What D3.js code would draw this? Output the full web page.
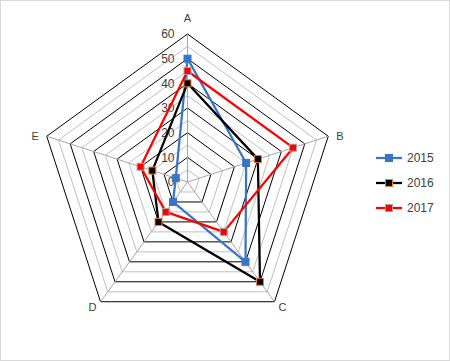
<!DOCTYPE html>
<html>
<head>
<meta charset="utf-8">
<script src="https://cdn.jsdelivr.net/npm/d3@7"></script>
<style>
  body { margin: 0; background: #fff; }
  svg { display: block; font-family: "Liberation Sans", Arial, sans-serif; }
</style>
</head>
<body>
<svg></svg>
<script>
const categories = ["A", "B", "C", "D", "E"];
const seriesNames = ["2015", "2016", "2017"];
const values2015 = [50, 25, 40, 10, 5];
const values2016 = [40, 30, 50, 20, 15];
const values2017 = [45, 45, 25, 15, 20];
const tickValues = [0, 10, 20, 30, 40, 50, 60];

const width = 450, height = 361;
const cx = 187.5, cy = 182, R = 148;

const series = [
    {name: seriesNames[0], values: values2015, line: "#3a75c4", fill: "#3a75c4", border: "#3a75c4"},
    {name: seriesNames[1], values: values2016, line: "#000000", fill: "#000000", border: "#ed7d31"},
    {name: seriesNames[2], values: values2017, line: "#ff0000", fill: "#ff0000", border: "#a5a5a5"}
];

const svg = d3.select("svg")
    .attr("width", width)
    .attr("height", height);

svg.append("rect")
    .attr("x", 0.5).attr("y", 0.5)
    .attr("width", width - 1).attr("height", height - 1)
    .attr("fill", "#fff")
    .attr("stroke", "#d9d9d9");

const r = d3.scaleLinear().domain([0, 60]).range([0, R]);
const angle = d3.scalePoint().domain(d3.range(categories.length + 1)).range([0, 2 * Math.PI]);

const px = (i, v) => cx + r(v) * Math.sin(angle(i % categories.length));
const py = (i, v) => cy - r(v) * Math.cos(angle(i % categories.length));

const g = svg.append("g");

// rings every 5, black on the tens
const ringLevels = d3.range(5, 61, 5);
g.selectAll(".ring")
    .data(ringLevels)
    .enter()
    .append("polygon")
    .attr("class", "ring")
    .attr("points", v => categories.map((c, i) => px(i, v) + "," + py(i, v)).join(" "))
    .attr("fill", "none")
    .attr("stroke", v => v % 10 === 0 ? "#000" : "#bfbfbf")
    .attr("stroke-width", 1);

// spokes
g.selectAll(".spoke")
    .data(categories)
    .enter()
    .append("line")
    .attr("x1", cx).attr("y1", cy)
    .attr("x2", (d, i) => px(i, 60))
    .attr("y2", (d, i) => py(i, 60))
    .attr("stroke", "#a6a6a6")
    .attr("stroke-width", 1);

// tick labels
g.selectAll(".tick")
    .data(tickValues)
    .enter()
    .append("text")
    .attr("x", cx - 13)
    .attr("y", v => py(0, v))
    .attr("dy", "0.35em")
    .attr("text-anchor", "end")
    .attr("font-size", 12)
    .attr("fill", "#404040")
    .text(v => v);

// category labels
const labelPos = [
    {dx: 0, dy: -16, anchor: "middle"},
    {dx: 8, dy: 0, anchor: "start"},
    {dx: 4, dy: 5, anchor: "start"},
    {dx: -4, dy: 5, anchor: "end"},
    {dx: -8, dy: 0, anchor: "end"}
];
g.selectAll(".cat")
    .data(categories)
    .enter()
    .append("text")
    .attr("x", (d, i) => px(i, 60) + labelPos[i].dx)
    .attr("y", (d, i) => py(i, 60) + labelPos[i].dy)
    .attr("dy", "0.35em")
    .attr("text-anchor", (d, i) => labelPos[i].anchor)
    .attr("font-size", 11)
    .attr("fill", "#404040")
    .text(d => d);

// series
const line = d3.line()
    .x(d => px(d.i, d.v))
    .y(d => py(d.i, d.v));

series.forEach(s => {
    const pts = s.values.map((v, i) => ({i: i, v: v}));
    g.append("path")
        .attr("d", line(pts.concat([pts[0]])))
        .attr("fill", "none")
        .attr("stroke", s.line)
        .attr("stroke-width", 2.25)
        .attr("stroke-linejoin", "round");
    g.selectAll(null)
        .data(pts)
        .enter()
        .append("rect")
        .attr("x", d => px(d.i, d.v) - 3.5)
        .attr("y", d => py(d.i, d.v) - 3.5)
        .attr("width", 7).attr("height", 7)
        .attr("fill", s.fill)
        .attr("stroke", s.border)
        .attr("stroke-width", 1);
});

// legend
const legend = svg.append("g").attr("transform", "translate(376, 158)");
const items = legend.selectAll(".item")
    .data(series)
    .enter()
    .append("g")
    .attr("transform", (d, i) => `translate(0, ${i * 25})`);
items.append("line")
    .attr("x1", 0).attr("x2", 26)
    .attr("stroke", d => d.line)
    .attr("stroke-width", 2.25);
items.append("rect")
    .attr("x", 9.5).attr("y", -3.5)
    .attr("width", 7).attr("height", 7)
    .attr("fill", d => d.fill)
    .attr("stroke", d => d.border);
items.append("text")
    .attr("x", 31).attr("dy", "0.35em")
    .attr("font-size", 12)
    .attr("fill", "#404040")
    .text(d => d.name);
</script>
</body>
</html>
